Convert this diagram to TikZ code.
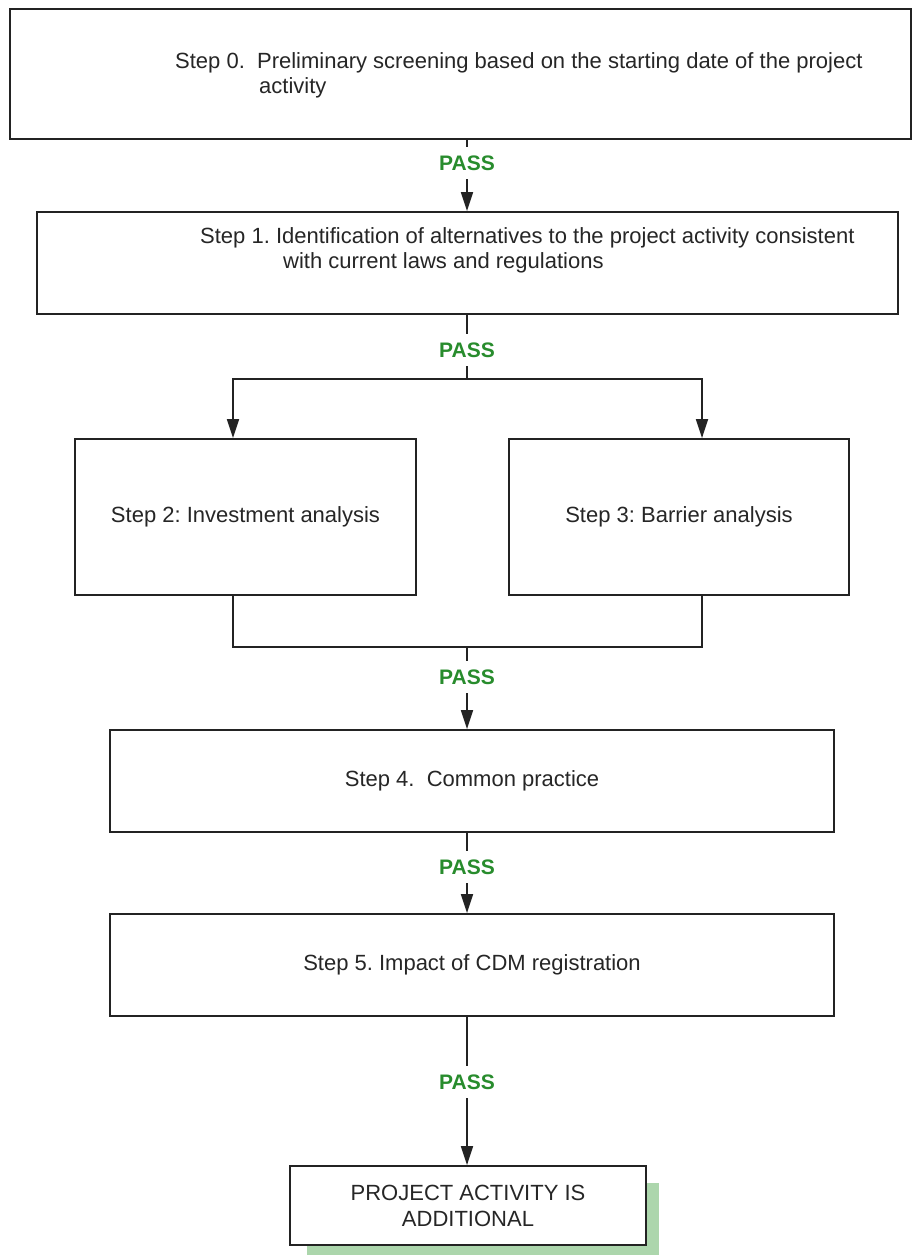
\documentclass[tikz,border=0pt]{standalone}
\usepackage{fontspec}
\setmainfont{Liberation Sans}
\usetikzlibrary{arrows.meta}
\definecolor{passgreen}{RGB}{40,140,45}
\definecolor{shadowgreen}{RGB}{172,214,172}
\definecolor{linegray}{RGB}{35,35,35}
\frenchspacing
\begin{document}
\begin{tikzpicture}[x=1pt,y=-1pt,
  box/.style={draw=linegray, line width=1.8pt, rectangle, inner sep=0pt, fill=white,
    font=\fontsize{22}{26}\selectfont, align=center, text=black!85},
  txt/.style={font=\fontsize{22}{26}\selectfont, inner sep=0pt, anchor=base west, text=black!85},
  pass/.style={font=\fontsize{21}{24}\bfseries\selectfont, text=passgreen, inner sep=0pt, minimum height=32pt},
  conn/.style={draw=linegray, line width=1.7pt},
  arr/.style={conn, -{Triangle[length=19pt,width=12pt]}}]
\useasboundingbox (0,0) rectangle (913,1255);

% Step 0
\node[box, minimum width=901pt, minimum height=130pt] (s0) at (460.5,74) {};
\node[txt] (s0a) at (175,68) {Step 0.\ \ Preliminary screening based on the starting date of the project};
\node[txt] (s0b) at (259,93) {activity};

% Step 1
\node[box, minimum width=861pt, minimum height=102pt] (s1) at (467.5,263) {};
\node[txt] (s1a) at (200,243) {Step 1. Identification of alternatives to the project activity consistent};
\node[txt] (s1b) at (283,268) {with current laws and regulations};

\node[pass] (p1) at (467,163) {PASS};
\draw[conn] (s0.south -| p1) -- (p1.north);
\draw[arr] (p1.south) -- (s1.north -| p1);

% Steps 2 and 3
\node[box, minimum width=341pt, minimum height=156pt] (s2) at (245.5,517) {Step 2: Investment analysis};
\node[box, minimum width=340pt, minimum height=156pt] (s3) at (679,517) {Step 3: Barrier analysis};

\node[pass] (p2) at (467,350) {PASS};
\coordinate (j1) at (467,379);
\coordinate (jl) at (233,379);
\coordinate (jr) at (702,379);
\draw[conn] (s1.south -| p2) -- (p2.north);
\draw[conn] (p2.south) -- (j1);
\draw[arr] (j1) -- (jl) -- (jl |- s2.north);
\draw[arr] (j1) -- (jr) -- (jr |- s3.north);

\coordinate (kl) at (233,647);
\coordinate (kr) at (702,647);
\coordinate (k) at (467,647);
\draw[conn] (kl |- s2.south) -- (kl) -- (kr) -- (kr |- s3.south);

% Step 4
\node[box, minimum width=724pt, minimum height=102pt] (s4) at (472,781) {Step 4.\ \ Common practice};
\node[pass] (p3) at (467,677) {PASS};
\draw[conn] (k) -- (p3.north);
\draw[arr] (p3.south) -- (s4.north -| p3);

% Step 5
\node[box, minimum width=724pt, minimum height=102pt] (s5) at (472,965) {Step 5. Impact of CDM registration};
\node[pass] (p4) at (467,867) {PASS};
\draw[conn] (s4.south -| p4) -- (p4.north);
\draw[arr] (p4.south) -- (s5.north -| p4);

% Final
\fill[shadowgreen] (307,1183) rectangle (659,1262);
\node[box, minimum width=356pt, minimum height=79pt] (fin) at (468,1205.5) {PROJECT ACTIVITY IS\\ADDITIONAL};
\node[pass] (p5) at (467,1082) {PASS};
\draw[conn] (s5.south -| p5) -- (p5.north);
\draw[arr] (p5.south) -- (fin.north -| p5);
\end{tikzpicture}
\end{document}
